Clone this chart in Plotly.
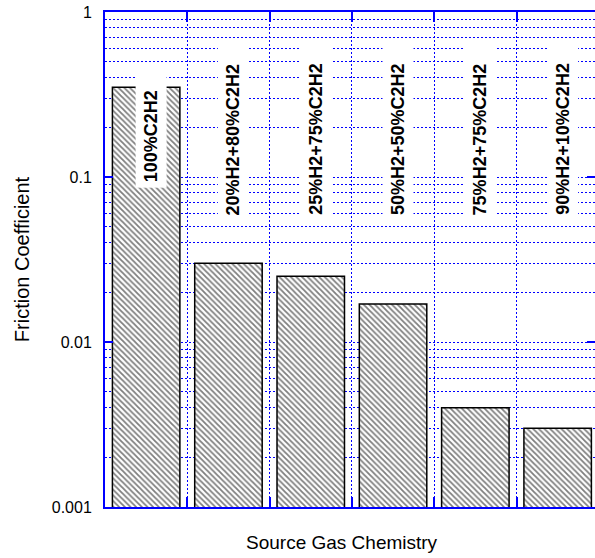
import math
import plotly.graph_objects as go

categories = ["100%C2H2", "20%H2+80%C2H2", "25%H2+75%C2H2",
              "50%H2+50%C2H2", "75%H2+75%C2H2", "90%H2+10%C2H2"]
friction = [0.35, 0.030, 0.025, 0.017, 0.004, 0.003]
y_tick_vals = [0.001, 0.01, 0.1, 1]
y_tick_text = ["0.001", "0.01", "0.1", "1"]

FONT = "Liberation Sans, Arial, sans-serif"
BLUE = "#0000ff"
DASH = "2px,2px"
x_idx = list(range(len(categories)))

W, H = 595, 558

fig = go.Figure()
fig.add_trace(go.Bar(
    x=x_idx, y=friction, width=0.82,
    marker=dict(color="white",
                line=dict(color="black", width=1.5),
                pattern=dict(shape="\\", fgcolor="black", bgcolor="white",
                             size=4, solidity=0.45)),
    hoverinfo="skip", showlegend=False,
))

annotations = []
for i, lab in enumerate(categories):
    ybot = -1.067 if i == 0 else -1.267
    annotations.append(dict(
        x=i, y=ybot, xref="x", yref="y", text=lab + "\u00a0\u00a0",
        textangle=-90, showarrow=False, xanchor="center", yanchor="bottom",
        xshift=5, bgcolor="white", borderpad=5,
        font=dict(family=FONT, size=18, color="black", weight="bold"),
    ))
annotations.append(dict(
    x=0.483, y=-0.072, xref="paper", yref="paper", text="Source Gas Chemistry",
    showarrow=False, xanchor="center", yanchor="middle",
    font=dict(family=FONT, size=19, color="black"),
))

fig.update_layout(
    width=W, height=H,
    margin=dict(l=105, r=0, t=12, b=51, autoexpand=False),
    paper_bgcolor="white", plot_bgcolor="white",
    font=dict(family=FONT, color="black"),
    annotations=annotations,
    xaxis=dict(
        range=[-0.5, -0.5 + 490 / 82.3],
        tickvals=[i + 0.5 for i in x_idx],
        showticklabels=False, automargin=False,
        ticks="inside", ticklen=10, tickcolor=BLUE, tickwidth=1.5,
        showgrid=True, gridcolor=BLUE, griddash=DASH, gridwidth=1,
        showline=True, linecolor=BLUE, linewidth=2, mirror="ticks",
        zeroline=False,
    ),
    yaxis=dict(
        type="log", range=[-3, 0], automargin=False,
        tickvals=y_tick_vals, ticktext=y_tick_text,
        ticks="inside", ticklen=8, tickcolor=BLUE, tickwidth=1.5,
        tickfont=dict(family=FONT, size=16, color="black"),
        ticklabelstandoff=8, ticklabeloverflow="allow",
        showgrid=True, gridcolor=BLUE, griddash=DASH, gridwidth=1,
        minor=dict(dtick="D1", showgrid=True, gridcolor=BLUE,
                   griddash=DASH, gridwidth=1, ticks=""),
        showline=True, linecolor=BLUE, linewidth=2, mirror="ticks",
        zeroline=False,
        title=dict(text="Friction Coefficient", standoff=17,
                   font=dict(family=FONT, size=20, color="black")),
    ),
)

fig.write_html(
    "out.html",
    config={"displayModeBar": False},
    post_script="document.body.style.margin='0';document.body.style.overflow='hidden';",
)
